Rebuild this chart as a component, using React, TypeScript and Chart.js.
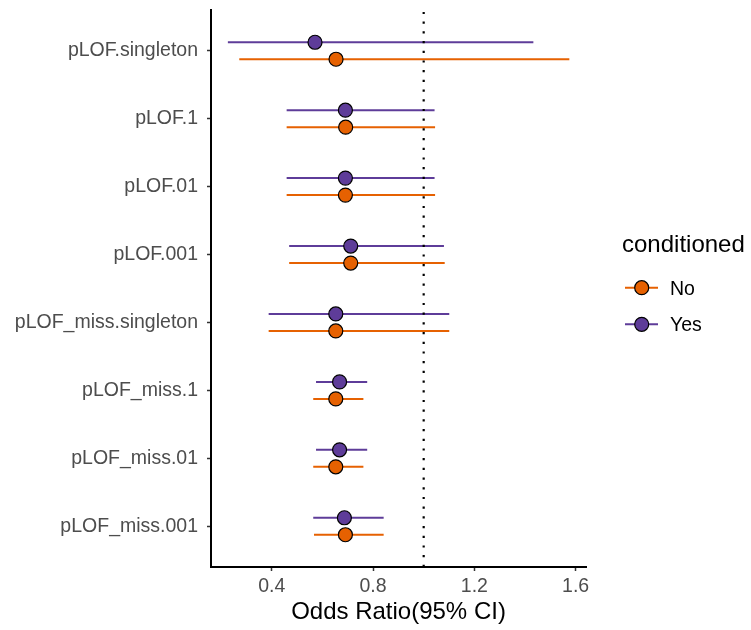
import React, { useEffect, useRef } from 'react';
import { Chart, registerables } from 'chart.js';

Chart.register(...registerables);

// Variant groups, listed top to bottom
const categories = [
  'pLOF.singleton',
  'pLOF.1',
  'pLOF.01',
  'pLOF.001',
  'pLOF_miss.singleton',
  'pLOF_miss.1',
  'pLOF_miss.01',
  'pLOF_miss.001',
];

// Odds ratios with 95% CI, not conditioned
const noOR = [0.654, 0.692, 0.691, 0.712, 0.653, 0.653, 0.653, 0.691];
const noLower = [0.272, 0.459, 0.459, 0.469, 0.388, 0.564, 0.564, 0.567];
const noUpper = [1.575, 1.045, 1.045, 1.083, 1.101, 0.762, 0.762, 0.842];

// Odds ratios with 95% CI, conditioned
const yesOR = [0.571, 0.691, 0.691, 0.712, 0.653, 0.668, 0.668, 0.687];
const yesLower = [0.227, 0.459, 0.459, 0.469, 0.388, 0.575, 0.575, 0.564];
const yesUpper = [1.433, 1.043, 1.043, 1.080, 1.101, 0.777, 0.777, 0.842];

const xTickValues = [0.4, 0.8, 1.2, 1.6];
const referenceOR = 1;

const legendTitle = 'conditioned';
const xAxisTitle = 'Odds Ratio(95% CI)';

const FONT = "'Liberation Sans', Arial, Helvetica, sans-serif";

type Series = {
  name: string;
  color: string;
  or: number[];
  lower: number[];
  upper: number[];
  dodge: number;
};

const series: Series[] = [
  { name: 'No', color: '#E66101', or: noOR, lower: noLower, upper: noUpper, dodge: 0.125 },
  { name: 'Yes', color: '#5E3C99', or: yesOR, lower: yesLower, upper: yesUpper, dodge: -0.125 },
];

const POINT_RADIUS = 7;

// Horizontal confidence-interval segments plus the dotted OR = 1 line
const intervalPlugin = {
  id: 'intervals',
  beforeDatasetsDraw(chart: any) {
    const { ctx, chartArea, scales } = chart;
    const xs = scales.x;
    const ys = scales.y;
    ctx.save();
    ctx.beginPath();
    ctx.rect(chartArea.left, chartArea.top, chartArea.right - chartArea.left, chartArea.bottom - chartArea.top);
    ctx.clip();
    ctx.lineWidth = 2;
    ctx.lineCap = 'butt';
    series.forEach((s) => {
      ctx.strokeStyle = s.color;
      s.lower.forEach((lo, i) => {
        const py = ys.getPixelForValue(i + 1 + s.dodge);
        ctx.beginPath();
        ctx.moveTo(xs.getPixelForValue(lo), py);
        ctx.lineTo(xs.getPixelForValue(s.upper[i]), py);
        ctx.stroke();
      });
    });
    const rx = xs.getPixelForValue(referenceOR);
    ctx.strokeStyle = '#000';
    ctx.lineWidth = 2.2;
    ctx.setLineDash([2.2, 7.5]);
    ctx.beginPath();
    ctx.moveTo(rx, chartArea.bottom);
    ctx.lineTo(rx, chartArea.top);
    ctx.stroke();
    ctx.restore();
  },
};

// Legend drawn to the right of the panel
const legendPlugin = {
  id: 'sideLegend',
  afterDraw(chart: any) {
    const { ctx } = chart;
    ctx.save();
    ctx.fillStyle = '#000';
    ctx.font = `24px ${FONT}`;
    ctx.textAlign = 'left';
    ctx.textBaseline = 'alphabetic';
    ctx.fillText(legendTitle, 622, 252);
    const rows = [287.7, 324.3];
    series.forEach((s, i) => {
      const cy = rows[i];
      ctx.strokeStyle = s.color;
      ctx.lineWidth = 2;
      ctx.beginPath();
      ctx.moveTo(625, cy);
      ctx.lineTo(658, cy);
      ctx.stroke();
      ctx.beginPath();
      ctx.arc(641.7, cy, POINT_RADIUS, 0, Math.PI * 2);
      ctx.fillStyle = s.color;
      ctx.fill();
      ctx.lineWidth = 1.2;
      ctx.strokeStyle = '#000';
      ctx.stroke();
      ctx.fillStyle = '#000';
      ctx.font = `19.5px ${FONT}`;
      ctx.fillText(s.name, 670, cy + 6.9);
    });
    ctx.restore();
  },
};

export default function App() {
  const canvasRef = useRef<HTMLCanvasElement | null>(null);

  useEffect(() => {
    const canvas = canvasRef.current;
    if (!canvas) return;

    const chart = new Chart(canvas, {
      type: 'scatter',
      data: {
        datasets: series.map((s) => ({
          label: s.name,
          data: s.or.map((v, i) => ({ x: v, y: i + 1 + s.dodge })),
          pointRadius: POINT_RADIUS,
          pointHoverRadius: POINT_RADIUS,
          pointBackgroundColor: s.color,
          pointBorderColor: '#000',
          pointBorderWidth: 1.2,
          showLine: false,
        })),
      },
      options: {
        responsive: false,
        animation: false,
        devicePixelRatio: 1,
        layout: { padding: { top: 10, right: 165, left: 0, bottom: 0 } },
        plugins: {
          legend: { display: false },
          tooltip: { enabled: false },
        },
        events: [],
        scales: {
          x: {
            type: 'linear',
            min: 0.1604,
            max: 1.6408,
            afterBuildTicks: (scale: any) => {
              scale.ticks = xTickValues.map((v) => ({ value: v }));
            },
            afterFit: (scale: any) => {
              scale.height = 63;
              scale.paddingLeft = 0;
              scale.paddingRight = 0;
            },
            ticks: {
              callback: (v: any) => Number(v).toFixed(1),
              color: '#4D4D4D',
              font: { size: 19.5, family: FONT },
              padding: 4,
              autoSkip: false,
              maxRotation: 0,
            },
            grid: {
              drawOnChartArea: false,
              drawTicks: true,
              tickLength: 4,
              tickColor: '#333',
              tickWidth: 1.5,
            },
            border: { display: true, color: '#000', width: 2 },
            title: {
              display: true,
              text: xAxisTitle,
              color: '#000',
              font: { size: 24, family: FONT },
              padding: { top: 0, bottom: 3 },
            },
          },
          y: {
            type: 'linear',
            min: 0.4,
            max: 8.6,
            reverse: true,
            afterBuildTicks: (scale: any) => {
              scale.ticks = categories.map((_, i) => ({ value: i + 1 }));
            },
            afterFit: (scale: any) => {
              scale.width = 211;
              scale.paddingTop = 0;
              scale.paddingBottom = 0;
            },
            ticks: {
              callback: (v: any) => categories[Math.round(Number(v)) - 1] ?? '',
              color: '#4D4D4D',
              font: { size: 19.5, family: FONT },
              padding: 9,
              autoSkip: false,
            },
            grid: {
              drawOnChartArea: false,
              drawTicks: true,
              tickLength: 4,
              tickColor: '#333',
              tickWidth: 1.5,
            },
            border: { display: true, color: '#000', width: 2 },
          },
        },
      },
      plugins: [intervalPlugin, legendPlugin],
    } as any);

    return () => {
      chart.destroy();
    };
  }, []);

  return (
    <div style={{ position: 'absolute', left: 0, top: 0, width: 751, height: 630, background: '#fff' }}>
      <canvas ref={canvasRef} width={751} height={630} style={{ width: 751, height: 630, display: 'block' }} />
    </div>
  );
}
